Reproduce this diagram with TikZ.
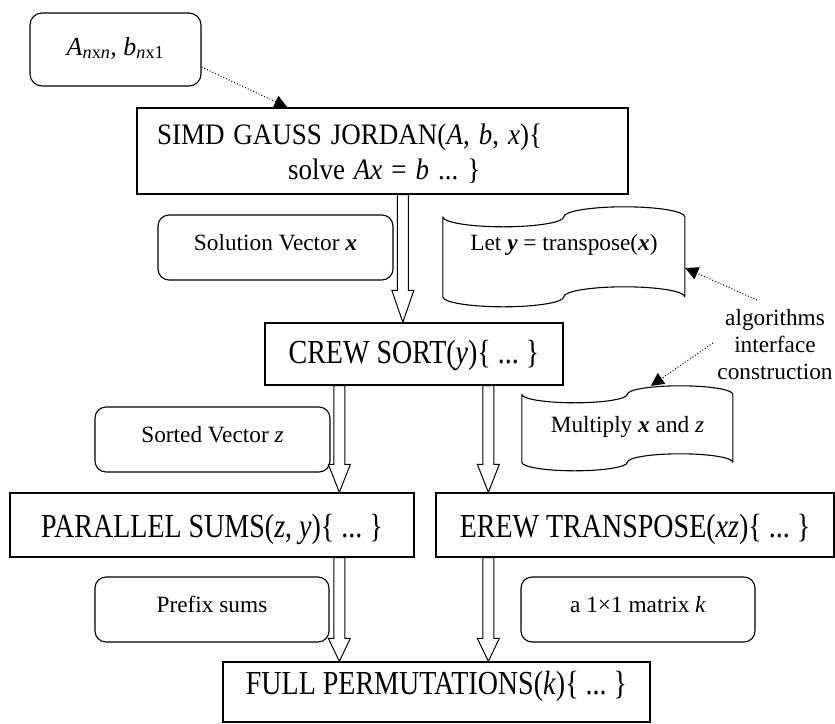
\documentclass[tikz,border=0pt]{standalone}
\usepackage{fontspec}
\usepackage{graphicx}
\setmainfont{Liberation Serif}
\usetikzlibrary{arrows.meta,calc}

% text stretched vertically about its baseline
\newcommand\vstretch[2]{\scalebox{1}[#1]{#2}}

\tikzset{
  mainfont/.style={font=\fontsize{28}{35}\selectfont\frenchspacing},
  smallfont/.style={font=\fontsize{23.3}{27}\selectfont\frenchspacing},
  procbox/.style={draw, fill=white, line width=1.3pt, inner sep=0pt, mainfont},
  databox/.style={draw, fill=white, rounded corners=11pt, line width=1.1pt,
    inner sep=0pt, smallfont, text height=14pt, text depth=9pt},
  tapenode/.style={inner sep=0pt, smallfont},
  tapeline/.style={line width=1.1pt, line join=round},
  hollow/.style={draw, fill=white, line width=1pt, line join=miter},
  noteline/.style={dotted, line width=1pt, -{Triangle[length=13pt,width=13pt]}},
}

% vertical block arrow: start point, tip point, head length
\newcommand\hollowarrow[3]{%
  \draw[hollow] let \p1=#1, \p2=#2 in
    (\x1-5.5pt,\y1) -- (\x1-5.5pt,\y2+#3) -- (\x1-11pt,\y2+#3) -- (\x1,\y2)
    -- (\x1+11pt,\y2+#3) -- (\x1+5.5pt,\y2+#3) -- (\x1+5.5pt,\y1) -- cycle;}

% punched-tape outline around a node: node name, width, height
\newcommand\tapeoutline[3]{%
  \begin{scope}[shift={(#1.north west)}]
    \pgfmathsetmacro\qa{0.25*#2}%
    \pgfmathsetmacro\qk{0.25*#2*0.5523}%
    \pgfmathsetmacro\ya{0.1*#3}%
    \pgfmathsetmacro\yk{0.1*#3*0.5523}%
    \draw[tapeline]
      (0,\ya)
      .. controls (0,{\ya+\yk}) and ({\qa-\qk},{2*\ya}) .. (\qa,{2*\ya})
      .. controls ({\qa+\qk},{2*\ya}) and ({2*\qa},{\ya+\yk}) .. ({2*\qa},\ya)
      .. controls ({2*\qa},{\ya-\yk}) and ({3*\qa-\qk},0) .. ({3*\qa},0)
      .. controls ({3*\qa+\qk},0) and ({4*\qa},{\ya-\yk}) .. ({4*\qa},\ya)
      -- ({4*\qa},{9*\ya})
      .. controls ({4*\qa},{9*\ya-\yk}) and ({3*\qa+\qk},{8*\ya}) .. ({3*\qa},{8*\ya})
      .. controls ({3*\qa-\qk},{8*\ya}) and ({2*\qa},{9*\ya-\yk}) .. ({2*\qa},{9*\ya})
      .. controls ({2*\qa},{9*\ya+\yk}) and ({\qa+\qk},{10*\ya}) .. (\qa,{10*\ya})
      .. controls ({\qa-\qk},{10*\ya}) and (0,{9*\ya+\yk}) .. (0,{9*\ya})
      -- cycle;
  \end{scope}}

\begin{document}
\begin{tikzpicture}[x=1pt,y=-1pt]
\useasboundingbox[fill=white] (0,0) rectangle (835,723);

% processing steps
\node[procbox, rounded corners=12pt, line width=1.1pt, minimum width=171pt,
      minimum height=73pt, text height=18pt, text depth=7pt,
      font=\fontsize{26}{30}\selectfont] (input) at (115.5,49.5)
  {\textit{A}\textsubscript{\textit{n}x\textit{n}}, \textit{b}\textsubscript{\textit{n}x1}};

\node[procbox, font=\fontsize{27}{35}\selectfont\frenchspacing,
      minimum width=491pt, minimum height=86pt, text width=451pt,
      align=left] (simd) at (382.5,151)
  {\rule{0pt}{25pt}\vstretch{1.1}{SIMD GAUSS JORDAN(\textit{A}, \textit{b}, \textit{x})\{}\\
   \hspace*{131pt}\vstretch{1.1}{solve \textit{Ax} = \textit{b} ... \}}};

\node[procbox, minimum width=298pt, minimum height=62pt, text height=24pt,
      text depth=6pt] (crew) at (414,354)
  {\vstretch{1.2}{CREW SORT(\textit{y})\{ ... \}}};

\node[procbox, minimum width=404pt, minimum height=64pt, text height=28pt,
      text depth=4pt] (par) at (212,525)
  {\vstretch{1.2}{PARALLEL SUMS(\textit{z}, \textit{y})\{ ... \}}};

\node[procbox, minimum width=398pt, minimum height=64pt, text height=28pt,
      text depth=4pt] (erew) at (635,525)
  {\vstretch{1.2}{EREW TRANSPOSE(\textit{xz})\{ ... \}}};

\node[procbox, minimum width=427pt, minimum height=60pt, text height=12pt,
      text depth=8pt] (full) at (436.5,692)
  {\vstretch{1.2}{FULL PERMUTATIONS(\textit{k})\{ ... \}}};

% data passed between steps
\node[databox, minimum width=235pt, minimum height=65pt] (sol) at (275.5,247.5)
  {Solution Vector \textbf{\textit{x}}};
\node[databox, minimum width=235pt, minimum height=65pt] (sorted) at (212.5,439.5)
  {Sorted Vector \textit{z}};
\node[databox, minimum width=234pt, minimum height=65pt] (prefix) at (212,609.5)
  {Prefix sums};
\node[databox, minimum width=234pt, minimum height=65pt] (matrix) at (638,609.5)
  {a 1×1 matrix \textit{k}};

% interface constructions
\node[tapenode, minimum width=242pt, minimum height=100pt, text height=2pt,
      text depth=16pt] (lety) at (564,257)
  {Let \textbf{\textit{y}} = transpose(\textbf{\textit{x}})};
\tapeoutline{lety}{242}{100}

\node[tapenode, minimum width=211pt, minimum height=85pt, text height=13pt,
      text depth=6pt] (mult) at (627.5,428.5)
  {Multiply \textbf{\textit{x}} and \textit{z}};
\tapeoutline{mult}{211}{85}

\node[smallfont, align=center, inner sep=0pt] (note) at (775,345)
  {algorithms\\interface\\construction};
\coordinate (noteA) at (757,300);
\coordinate (noteB) at (713,343);

% dotted pointers
\draw[noteline] ([yshift=-17.5pt]input.east) -- ([xshift=151pt]simd.north west);
\draw[noteline] (noteA) -- ([yshift=-11pt]lety.east);
\draw[noteline] (noteB) -- ([xshift=129pt]mult.north west);

% block arrows between steps
\hollowarrow{([xshift=266.5pt]simd.south west)}{([xshift=138.5pt]crew.north west)}{32pt}
\hollowarrow{([xshift=75pt]crew.south west)}{([xshift=330pt]par.north west)}{28pt}
\hollowarrow{([xshift=224pt]crew.south west)}{([xshift=53pt]erew.north west)}{28pt}
\hollowarrow{([xshift=330pt]par.south west)}{([xshift=117pt]full.north west)}{23pt}
\hollowarrow{([xshift=53pt]erew.south west)}{([xshift=266pt]full.north west)}{23pt}
\end{tikzpicture}
\end{document}
